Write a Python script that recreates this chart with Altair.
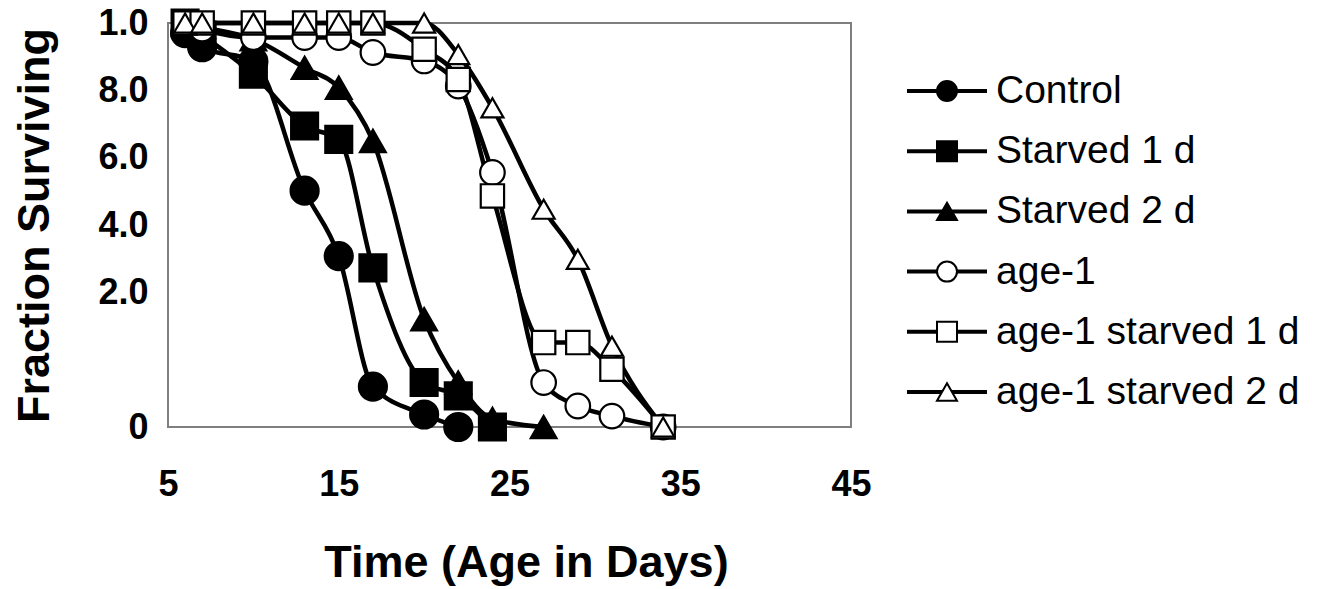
import altair as alt
import pandas as pd

series = ["Control", "Starved 1 d", "Starved 2 d", "age-1",
          "age-1 starved 1 d", "age-1 starved 2 d"]
shapes = ["circle", "square", "triangle-up", "circle", "square", "triangle-up"]
fills = ["black", "black", "black", "white", "white", "white"]
marker_sizes = [784, 484, 576, 784, 484, 576]

days_control = [6, 7, 10, 13, 15, 17, 20, 22]
surv_control = [0.975, 0.94, 0.905, 0.585, 0.423, 0.10, 0.031, 0.0]
days_s1 = [6, 7, 10, 13, 15, 17, 20, 22, 24]
surv_s1 = [1.0, 0.97, 0.873, 0.745, 0.712, 0.394, 0.11, 0.077, 0.0]
days_s2 = [6, 7, 10, 13, 15, 17, 20, 22, 24, 27]
surv_s2 = [1.0, 0.99, 0.96, 0.889, 0.84, 0.708, 0.267, 0.11, 0.02, 0.0]
days_age = [6, 7, 10, 13, 15, 17, 20, 22, 24, 27, 29, 31, 34]
surv_age1 = [1.0, 0.985, 0.964, 0.964, 0.964, 0.927, 0.906, 0.844, 0.63, 0.11, 0.052, 0.027, 0.0]
surv_age1_s1 = [1.0, 1.0, 1.0, 1.0, 1.0, 1.0, 0.935, 0.86, 0.572, 0.209, 0.209, 0.143, 0.0]
surv_age1_s2 = [1.0, 1.0, 1.0, 1.0, 1.0, 1.0, 1.0, 0.922, 0.79, 0.539, 0.415, 0.20, 0.0]

x_ticks = [5, 15, 25, 35, 45]
y_tick_values = [0, 1 / 6, 2 / 6, 3 / 6, 4 / 6, 5 / 6, 1]
y_tick_labels = ["0", "", "2.0", "4.0", "6.0", "8.0", "1.0"]

pairs = [
    (days_control, surv_control),
    (days_s1, surv_s1),
    (days_s2, surv_s2),
    (days_age, surv_age1),
    (days_age, surv_age1_s1),
    (days_age, surv_age1_s2),
]
rows = []
for i, (name, (dd, ss)) in enumerate(zip(series, pairs)):
    for d, s in zip(dd, ss):
        rows.append({"series": name, "order": i, "day": d, "surv": s})
df = pd.DataFrame(rows)

FONT = "Liberation Sans"
label_expr = "[" + ",".join("'%s'" % t for t in y_tick_labels) + "][round(datum.value*6)]"

x_enc = alt.X("day:Q", scale=alt.Scale(domain=[5, 45], nice=False, zero=False),
              axis=alt.Axis(values=x_ticks, title="Time (Age in Days)", grid=False,
                            ticks=False, domain=False, labelPadding=40,
                            titlePadding=38, titleX=358, labelFlush=False))
y_enc = alt.Y("surv:Q", scale=alt.Scale(domain=[0, 1], nice=False),
              axis=alt.Axis(values=y_tick_values, labelExpr=label_expr,
                            title="Fraction Surviving", grid=False, ticks=False,
                            domain=False, labelPadding=20, titlePadding=40,
                            labelFlush=False))

shape_scale = alt.Scale(domain=series, range=shapes)
fill_scale = alt.Scale(domain=series, range=fills)
size_scale = alt.Scale(domain=series, range=marker_sizes)

base = alt.Chart(df)
lines = base.mark_line(color="black", strokeWidth=4.5, interpolate="monotone").encode(
    x=x_enc, y=y_enc, detail="series:N", order="day:Q")
points = base.mark_point(filled=True, stroke="black", strokeWidth=2.2, opacity=1).encode(
    x=x_enc, y=y_enc,
    shape=alt.Shape("series:N", scale=shape_scale, legend=None),
    fill=alt.Fill("series:N", scale=fill_scale, legend=None),
    size=alt.Size("series:N", scale=size_scale, legend=None),
    order="order:Q")
plot = alt.layer(lines, points).properties(width=683, height=404)

leg_df = pd.DataFrame({"series": series})
leg_y = alt.Y("series:N", scale=alt.Scale(type="point", domain=series, range=[68, 369], padding=0), axis=None)
leg_base = alt.Chart(leg_df)
leg_rule = leg_base.mark_rule(color="black", strokeWidth=4).encode(
    y=leg_y, x=alt.value(0), x2=alt.value(80))
leg_pts = leg_base.mark_point(filled=True, stroke="black", strokeWidth=2, opacity=1, size=400).encode(
    y=leg_y, x=alt.value(40),
    shape=alt.Shape("series:N", scale=shape_scale, legend=None),
    fill=alt.Fill("series:N", scale=fill_scale, legend=None))
leg_txt = leg_base.mark_text(align="left", baseline="middle", fontSize=39, font=FONT, color="black").encode(
    y=leg_y, x=alt.value(89), text="series:N")
legend = alt.layer(leg_rule, leg_pts, leg_txt).properties(
    width=320, height=404, view=alt.ViewBackground(stroke="transparent"))

chart = alt.hconcat(plot, legend, spacing=31).properties(
    padding={"left": 3, "top": -4, "right": 0, "bottom": 0}
).configure_view(stroke="#7f7f7f", strokeWidth=2).configure_axis(
    labelFont=FONT, labelFontSize=36, labelFontWeight="bold", labelColor="black",
    titleFont=FONT, titleFontSize=45, titleFontWeight="bold", titleColor="black"
)

chart.save("out.html", embed_options={"renderer": "svg", "actions": False})
